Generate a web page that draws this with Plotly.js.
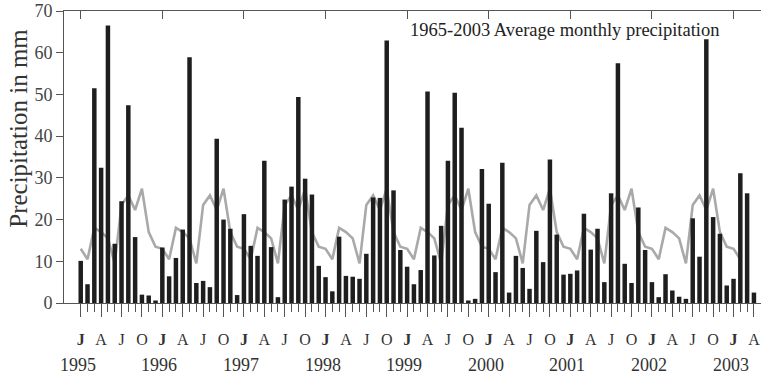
<!DOCTYPE html>
<html>
<head>
<meta charset="utf-8">
<script src="https://cdn.plot.ly/plotly-3.0.1.min.js"></script>
<style>html,body{margin:0;padding:0;background:#fff;}#chart{width:766px;height:375px;}</style>
</head>
<body>
<div id="chart"></div>
<script>
// Monthly precipitation (mm), Jan 1995 - Apr 2003
const precip1995 = [10.1, 4.5, 51.5, 32.4, 66.5, 14.2, 24.4, 47.4, 15.8, 2.0, 1.8, 0.6];
const precip1996 = [13.3, 6.4, 10.8, 17.6, 58.9, 4.8, 5.3, 3.8, 39.4, 20.0, 17.8, 1.9];
const precip1997 = [21.3, 13.7, 11.3, 34.1, 13.4, 1.4, 24.8, 27.9, 49.4, 29.8, 26.0, 8.9];
const precip1998 = [6.2, 2.8, 15.9, 6.5, 6.3, 5.8, 11.8, 25.3, 25.2, 62.9, 27.0, 12.7];
const precip1999 = [8.7, 4.5, 7.9, 50.7, 11.4, 18.5, 34.1, 50.4, 42.0, 0.6, 1.0, 32.1];
const precip2000 = [23.8, 7.4, 33.6, 2.5, 11.3, 8.4, 3.4, 17.3, 9.8, 34.4, 16.4, 6.8];
const precip2001 = [7.0, 7.8, 21.4, 12.8, 17.8, 5.0, 26.3, 57.5, 9.4, 4.8, 22.9, 12.7];
const precip2002 = [5.0, 1.4, 6.9, 3.0, 1.5, 1.0, 20.3, 11.1, 63.2, 20.6, 16.6, 4.2];
const precip2003 = [5.8, 31.1, 26.3, 2.5];

// 1965-2003 average monthly precipitation (Jan..Dec)
const avgMonthly = [13.0, 10.5, 18.0, 17.0, 15.5, 9.5, 23.5, 25.8, 22.3, 27.4, 17.0, 13.5];
const avgMonthsShown = 98; // line drawn Jan 1995 - Feb 2003

const years = [1995, 1996, 1997, 1998, 1999, 2000, 2001, 2002, 2003];
const quarterLetters = ['<b>J</b>', 'A', 'J', 'O'];
const yTicks = [0, 10, 20, 30, 40, 50, 60, 70];

const precip = [].concat(precip1995, precip1996, precip1997, precip1998, precip1999,
                         precip2000, precip2001, precip2002, precip2003);
const monthIdx = precip.map((_, i) => i);
const avgIdx = [], avgVals = [];
for (let i = 0; i < avgMonthsShown; i++) { avgIdx.push(i); avgVals.push(avgMonthly[i % 12]); }

const janIdx = years.map((_, k) => k * 12);
const qVals = [], qText = [];
for (let i = 0; i < precip.length; i++) {
  if (i % 3 === 0) { qVals.push(i); qText.push(quarterLetters[(i % 12) / 3]); }
}

const xRange = [-2.46, 100.04];
const axisCol = '#555';
const FONT = 'Liberation Serif, Times New Roman, serif';

const data = [
  // average line on the base subplot so that the bars (overlay) sit on top of it
  { type: 'scatter', mode: 'lines', x: avgIdx, y: avgVals, xaxis: 'x', yaxis: 'y',
    line: { color: '#a9a9a9', width: 2.6 }, hoverinfo: 'y' },
  { type: 'bar', x: monthIdx, y: precip, xaxis: 'x2', yaxis: 'y',
    marker: { color: '#1e1e1e', line: { width: 0 } }, hoverinfo: 'y' }
];

const annotations = [
  { text: '1965-2003 Average monthly precipitation', xref: 'paper', yref: 'paper',
    x: 0.4935, y: 0.935, xanchor: 'left', yanchor: 'middle', showarrow: false,
    font: { family: FONT, size: 18.5, color: '#222' } },
  { text: 'Precipitation in mm', xref: 'paper', yref: 'paper', textangle: -90,
    x: -0.0646, y: 0.60, xanchor: 'center', yanchor: 'middle', showarrow: false,
    font: { family: FONT, size: 25, color: '#333' } }
];
years.forEach((yr, k) => {
  annotations.push({ text: String(yr), xref: 'x', yref: 'paper', x: janIdx[k], y: -0.212,
    xanchor: 'center', yanchor: 'middle', xshift: -3, showarrow: false,
    font: { family: FONT, size: 18, color: '#333' } });
});

const layout = {
  width: 766, height: 375,
  margin: { l: 64, r: 5, t: 11, b: 72 },
  paper_bgcolor: '#fff', plot_bgcolor: '#fff',
  showlegend: false, bargap: 0.34,
  font: { family: FONT, color: '#333' },
  xaxis: {
    range: xRange, showline: true, linecolor: axisCol, linewidth: 1,
    ticks: 'outside', ticklen: 13, tickwidth: 1, tickcolor: axisCol,
    tickmode: 'array', tickvals: qVals, ticktext: qText,
    tickfont: { family: FONT, size: 16, color: '#333' },
    ticklabelstandoff: 9,
    showgrid: false, zeroline: false, fixedrange: true,
    minor: { tickmode: 'array', tickvals: monthIdx, ticks: 'outside', ticklen: 8,
             tickwidth: 1, tickcolor: axisCol, showgrid: false }
  },
  xaxis2: {
    overlaying: 'x', side: 'top', anchor: 'y', range: xRange,
    showline: true, linecolor: axisCol, linewidth: 1,
    ticks: 'inside', ticklen: 8, tickwidth: 1, tickcolor: axisCol,
    tickmode: 'array', tickvals: janIdx, showticklabels: false,
    showgrid: false, zeroline: false, fixedrange: true
  },
  xaxis3: {
    overlaying: 'x', side: 'bottom', anchor: 'y', range: xRange,
    showline: false, ticks: 'outside', ticklen: 21, tickwidth: 1, tickcolor: axisCol,
    tickmode: 'array', tickvals: janIdx, showticklabels: false,
    showgrid: false, zeroline: false, fixedrange: true
  },
  yaxis: {
    range: [0, 70], showline: true, linecolor: axisCol, linewidth: 1,
    ticks: 'outside', ticklen: 7, tickwidth: 1, tickcolor: axisCol,
    tickmode: 'array', tickvals: yTicks,
    tickfont: { family: FONT, size: 18, color: '#444' },
    showgrid: false, zeroline: false, fixedrange: true
  },
  annotations: annotations
};

Plotly.newPlot('chart', data, layout, { displayModeBar: false, staticPlot: true });
</script>
</body>
</html>
